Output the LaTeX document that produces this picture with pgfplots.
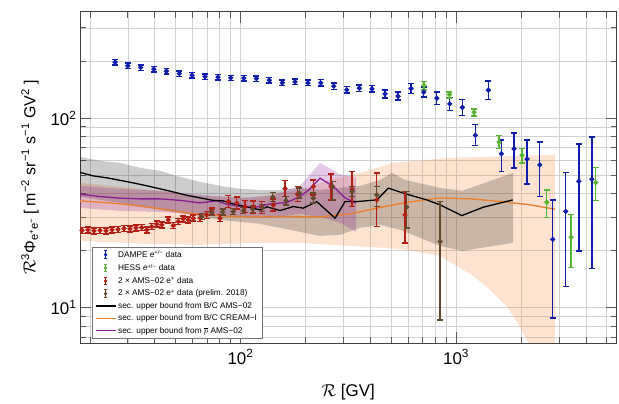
\documentclass[border=0pt]{standalone}
\usepackage{pgfplots}
\pgfplotsset{compat=1.18}
\usepackage{fontspec}
\setmainfont{Liberation Sans}
\definecolor{dampe}{RGB}{16,28,170}
\definecolor{hess}{RGB}{88,180,50}
\definecolor{amsred}{RGB}{180,30,20}
\definecolor{amsbrown}{RGB}{100,72,45}
\definecolor{cream}{RGB}{235,125,40}
\definecolor{pbar}{RGB}{135,30,150}
\definecolor{peach}{RGB}{245,140,60}
\newcommand\ebarlegend[1]{%
 \draw[#1, line width=1bp] (10bp,-3.8bp) -- (10bp,3.8bp);
 \draw[#1, line width=1bp] (8.6bp,-3.8bp) -- (11.4bp,-3.8bp);
 \draw[#1, line width=1bp] (8.6bp,3.8bp) -- (11.4bp,3.8bp);
 \fill[#1] (10bp,0bp) circle[radius=1.4bp];}
\newcommand\linelegend[1]{\draw[#1, line width=1.2bp] (0bp,0bp) -- (20bp,0bp);}
\pgfplotsset{
 ebar/.style={#1, mark options={#1}, only marks, mark=*, mark size=1.8bp, line width=1.4bp,
   error bars/.cd, y dir=both, y explicit,
   error bar style={#1, line width=1.4bp},
   error mark=-,
   error mark options={#1, rotate=90, line width=1.4bp, mark size=2.9bp}},
}
\begin{document}
\begin{tikzpicture}
\begin{axis}[
 scale only axis, width=536.5bp, height=331.3bp,
 at={(0,0)}, anchor=south west,
 xmode=log, ymode=log,
 xmin=18, xmax=5550, ymin=6.5, ymax=365,
 xtick={100,1000}, xticklabels={10\textsuperscript{2},10\textsuperscript{3}},
 ytick={10,100}, yticklabels={10\textsuperscript{1},10\textsuperscript{2}},
 minor xtick={20,30,40,50,60,70,80,90,200,300,400,500,600,700,800,900,2000,3000,4000,5000},
 minor ytick={7,8,9,20,30,40,50,60,70,80,90,200,300},
 grid=both, grid style={black!18, line width=0.6bp}, minor grid style={black!18, line width=0.6bp},
 major grid style={black!18, line width=0.6bp},
 tick align=inside, major tick length=11bp, minor tick length=6bp,
 tick style={black!65, line width=0.7bp},
 axis line style={black!75, line width=0.8bp},
 tick label style={font=\fontsize{17}{20}\selectfont},
 xticklabel style={yshift=-3bp},
 xlabel={\(\mathcal{R}\) [GV]},
 xlabel style={at={(axis description cs:0.5,-0.148)}, anchor=center, font=\fontsize{17}{20}\selectfont},
 ylabel={\(\mathcal{R}\)\textsuperscript{3}Φ\textsubscript{e\textsuperscript{+}e\textsuperscript{−}}\,[ m\textsuperscript{−2} sr\textsuperscript{−1} s\textsuperscript{−1} GV\textsuperscript{2} ]},
 ylabel style={at={(axis description cs:-0.0932,0.5)}, anchor=center, font=\fontsize{16}{19}\selectfont},
 legend cell align=left,
 legend style={at={(axis description cs:0.0218,0.0142)}, anchor=south west,
   draw=black!55, fill=white, line width=0.6bp,
   font=\fontsize{8.3}{10}\selectfont,
   inner xsep=3bp, inner ysep=1.5bp, row sep=0.9bp},
]
\addlegendimage{legend image code/.code={\ebarlegend{dampe}}}
\addlegendentry{DAMPE \textit{e}\textsuperscript{+/−} data}
\addlegendimage{legend image code/.code={\ebarlegend{hess}}}
\addlegendentry{HESS \textit{e}\textsuperscript{+/−} data}
\addlegendimage{legend image code/.code={\ebarlegend{amsred}}}
\addlegendentry{2 × AMS−02 e\textsuperscript{+} data}
\addlegendimage{legend image code/.code={\ebarlegend{amsbrown}}}
\addlegendentry{2 × AMS−02 e\textsuperscript{+} data (prelim. 2018)}
\addlegendimage{legend image code/.code={\linelegend{black}}}
\addlegendentry{sec. upper bound from B/C AMS−02}
\addlegendimage{legend image code/.code={\linelegend{cream}}}
\addlegendentry{sec. upper bound from B/C CREAM−I}
\addlegendimage{legend image code/.code={\linelegend{pbar}}}
\addlegendentry{sec. upper bound from \(\overline{p}\) AMS−02}

% peach band (B/C CREAM-I)
\addplot[forget plot, draw=none, fill=peach, fill opacity=0.24] coordinates {
 (18.0,45.55) (38.02,41.82) (64.88,38.89) (110.7,37.95) (188.9,41.82) (260.2,47.23)
 (358.6,51.42) (510.3,58.08) (937.8,61.72) (2880,64.01)
 (2880,1.0) (2454,1.77) (2326,4.15) (2159,6.51) (1982,7.91) (1725,10.09) (1438,12.40)
 (1199,14.71) (843.0,18.75) (549.6,20.41) (322.2,21.17) (188.9,21.96) (110.7,21.96)
 (64.88,21.43) (38.02,21.70) (18.0,22.50)} -- cycle;
% gray band (B/C AMS-02)
\addplot[forget plot, draw=none, fill=black, fill opacity=0.2] coordinates {
 (18.0,62.48) (22.28,59.52) (27.60,58.08) (34.17,54.66) (42.32,52.70) (52.40,48.98)
 (64.88,46.11) (80.34,43.92) (99.47,42.36) (123.2,41.82) (152.5,41.82) (188.9,42.85)
 (233.8,41.82) (289.5,42.85) (358.6,43.92) (444.0,47.23) (504.7,51.42) (579.8,47.23)
 (843.0,42.85) (1066,41.32) (1839,51.42)
 (1839,21.96) (1066,19.92) (843.0,21.17) (549.6,25.72) (444.0,27.33) (358.6,26.36)
 (289.5,24.20) (233.8,23.91) (188.9,25.10) (152.5,26.36) (123.2,27.67) (99.47,28.35)
 (80.34,29.04) (64.88,30.12) (52.40,31.62) (42.32,32.80) (34.17,34.02) (27.60,35.71)
 (22.28,37.03) (18.0,38.42)} -- cycle;
% purple band (pbar AMS-02)
\addplot[forget plot, draw=none, fill=pbar, fill opacity=0.24] coordinates {
 (18.0,43.92) (27.60,42.36) (42.32,41.32) (64.88,39.36) (99.47,37.95) (137.1,38.89)
 (188.9,43.92) (233.8,58.08) (289.5,50.62) (343.6,48.98)
 (343.6,25.10) (289.5,28.01) (233.8,30.12) (188.9,31.24) (137.1,29.76) (99.47,30.12)
 (64.88,30.87) (42.32,32.02) (27.60,32.41) (18.0,33.61)} -- cycle;

% orange line
\addplot[forget plot, cream, line width=1.3bp] coordinates {
 (18.0,36.59) (24.80,35.71) (34.17,34.43) (47.72,32.60) (64.88,31.05) (89.39,30.31)
 (123.2,30.24) (169.7,30.24) (233.8,30.12) (322.2,31.24) (458.5,34.02) (611.6,36.15)
 (843.0,37.95) (1161,37.49) (1600,36.37) (2205,34.85) (2880,33.08)};
% purple line
\addplot[forget plot, pbar, line width=1.3bp] coordinates {
 (18.0,39.69) (22.28,38.56) (27.60,37.81) (34.17,37.49) (42.32,37.49) (52.40,36.81)
 (64.88,35.71) (77.56,36.59) (86.29,35.15) (99.47,34.15) (116.8,33.81) (137.1,35.28)
 (163.8,35.84) (188.9,38.56) (210.2,42.36) (233.8,48.22) (269.5,43.54) (305.4,37.95)
 (343.6,35.58)};
% black line
\addplot[forget plot, black, line width=1.3bp] coordinates {
 (18.0,51.74) (20.68,49.59) (24.01,48.40) (27.60,46.96) (31.71,45.55) (36.83,43.92)
 (42.32,42.36) (48.62,40.82) (56.46,39.12) (64.88,37.95) (74.54,36.81) (82.96,36.59)
 (92.30,35.28) (107.2,34.02) (123.2,32.80) (132.7,34.02) (152.5,32.52) (175.8,34.15)
 (195.6,33.49) (225.7,36.28) (274.5,29.65) (305.4,36.28) (346.2,36.28) (428.5,37.03)
 (485.2,42.69) (569.4,40.18) (731.1,37.03) (843.0,34.85) (1063,30.60) (1339,33.89)
 (1833,37.03)};

% AMS-02 positrons (x2)
\addplot[forget plot, ebar=amsred]
 table[x=x, y=y, y error plus expr=\thisrow{hi}-\thisrow{y}, y error minus expr=\thisrow{y}-\thisrow{lo}] {
x y hi lo
18.39 25.56 26.51 24.64
19.60 25.72 26.68 24.80
20.90 25.41 26.36 24.50
22.28 25.56 26.51 24.64
23.76 25.41 26.36 24.50
25.33 25.72 26.68 24.80
27.02 25.88 26.84 24.95
28.80 26.20 27.17 25.26
30.70 26.04 27.01 25.11
32.74 26.36 27.34 25.41
34.80 26.45 27.43 25.50
36.71 25.72 26.68 24.80
38.72 26.78 27.78 25.82
40.85 27.57 28.60 26.58
43.09 27.34 28.36 26.36
46.24 29.04 30.12 28.00
48.78 27.10 28.11 26.13
51.45 28.46 29.52 27.44
54.28 29.40 30.49 28.35
57.25 29.04 30.12 28.00
60.39 29.65 30.75 28.59
64.88 29.65 30.94 28.41
69.70 30.87 32.21 29.58
73.51 32.13 33.53 30.79
80.34 29.65 30.94 28.41
87.78 36.28 39.03 33.73
96.03 35.58 38.27 33.08
104.9 34.15 36.74 31.75
114.7 34.02 36.60 31.63
125.4 33.81 36.37 31.43
142.0 34.85 37.49 32.40
160.9 42.49 46.83 38.55
184.2 39.69 43.54 36.28
217.7 43.54 47.23 39.36
263.0 43.54 50.62 37.03
329.2 42.18 52.26 34.15
428.5 37.03 51.24 26.78
579.8 30.87 40.98 21.88
};
% AMS-02 positrons prelim. 2018 (x2)
\addplot[forget plot, ebar=amsbrown]
 table[x=x, y=y, y error plus expr=\thisrow{hi}-\thisrow{y}, y error minus expr=\thisrow{y}-\thisrow{lo}] {
x y hi lo
66.07 30.24 31.36 29.15
73.51 31.74 32.92 30.60
82.69 32.02 33.21 30.87
92.60 32.13 33.33 30.98
103.0 32.52 33.73 31.35
113.9 33.08 34.52 31.70
126.2 33.61 35.07 32.21
141.1 38.27 40.48 36.28
162.6 36.72 38.56 34.85
187.5 40.18 42.85 37.81
217.7 37.81 40.18 35.58
267.8 43.54 46.27 37.03
329.2 40.98 43.54 38.56
428.5 39.36 43.54 34.15
590.4 33.89 40.98 26.26
843.0 22.31 36.28 8.61
};
% DAMPE
\addplot[forget plot, ebar=dampe]
 table[x=x, y=y, y error plus expr=\thisrow{hi}-\thisrow{y}, y error minus expr=\thisrow{y}-\thisrow{lo}] {
x y hi lo
26.2 197.6 204.2 191.2
30.0 188.9 195.2 182.8
34.4 185.0 191.2 179.0
39.6 181.4 187.5 175.5
45.3 177.1 183.0 171.4
52.0 172.0 177.7 166.4
59.6 168.7 174.3 163.2
68.4 165.8 171.3 160.4
78.6 164.6 170.1 159.3
90.1 163.2 168.6 157.9
103.5 162.6 168.0 157.3
118.4 161.9 167.3 156.7
136.0 158.7 164.0 153.6
156.3 153.6 158.7 148.6
179.0 155.5 160.7 150.5
205.7 153.6 158.7 148.6
235.6 153.6 159.9 147.6
270.7 147.6 153.6 141.8
311.1 141.1 146.9 135.6
355.8 144.0 149.9 138.3
407.6 142.8 148.6 137.2
468.3 134.4 141.1 128.0
538.1 130.7 137.2 124.5
618.4 143.3 152.3 134.8
708.3 137.2 145.8 129.1
813.7 127.5 137.2 118.5
935.0 119.0 128.8 110.0
1069.6 114.0 125.6 103.4
1229 81.3 92.4 71.6
1412 140.6 157.2 125.7
1623 64.9 76.8 52.2
1858 68.9 83.3 54.5
2135 60.8 76.8 45.0
2445 56.7 74.7 38.7
2810 22.9 37.0 8.8
3228 32.2 51.6 12.9
3710 46.4 72.9 19.9
4263 47.6 79.4 16.1
};
% HESS
\addplot[forget plot, ebar=hess]
 table[x=x, y=y, y error plus expr=\thisrow{hi}-\thisrow{y}, y error minus expr=\thisrow{y}-\thisrow{lo}] {
x y hi lo
710 148.6 156.0 141.0
931 133.2 137.7 127.5
1212 107.6 111.9 102.8
1583 74.7 80.9 69.4
2024 63.8 69.4 57.9
2635 36.0 41.8 29.9
3418 23.5 30.9 16.3
4446 45.7 54.9 36.7
};
\end{axis}
\path (-80bp,-60bp) rectangle (539bp,343bp);
\end{tikzpicture}
\end{document}
